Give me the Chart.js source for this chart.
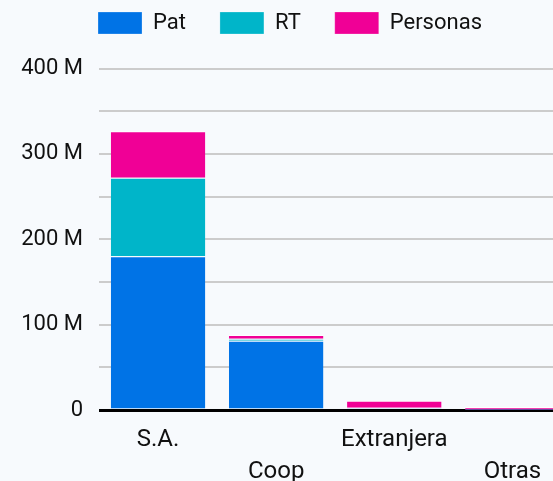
<!DOCTYPE html>
<html>
<head>
<meta charset="utf-8">
<script src="https://cdn.jsdelivr.net/npm/chart.js@4/dist/chart.umd.min.js"></script>
<style>
  html, body { margin: 0; padding: 0; background: #f7fafd; overflow: hidden; width: 553px; height: 481px; }
  #wrap { position: absolute; left: 0; top: 0; width: 580px; height: 502px; }
</style>
</head>
<body>
<div id="wrap"><canvas id="c" width="580" height="502"></canvas></div>
<script>
// Data (values in millions)
const categories = [['S.A.'], ['', 'Coop'], ['Extranjera'], ['', 'Otras']];
const pat = [180, 81, 2.3, 0.3];
const rt = [92, 2.5, 0.3, 0.1];
const personas = [54.5, 4.3, 8.2, 3.2];
const yTickLabels = { 0: '0', 100: '100 M', 200: '200 M', 300: '300 M', 400: '400 M' };

const FONT = 'Roboto, "Noto Sans", sans-serif';
const TEXT = '#111111';

// Legend: extra space below it and centred on the full canvas width
const legendTweak = {
  id: 'legendTweak',
  afterInit(chart) {
    const lg = chart.legend;
    const origFit = lg.fit;
    lg.fit = function () { origFit.call(this); this.height += 24.5; };
    const origDraw = lg.draw;
    lg.draw = function () {
      const ctx = this.ctx;
      ctx.save();
      ctx.translate(4.25, 0);
      origDraw.call(this);
      ctx.restore();
    };
  }
};

const barBorder = { top: 1, left: 0, right: 0, bottom: 0 };

new Chart(document.getElementById('c'), {
  type: 'bar',
  data: {
    labels: categories,
    datasets: [
      { label: 'Pat', data: pat, backgroundColor: '#0073e6', borderColor: '#ffffff', borderWidth: barBorder, borderSkipped: false },
      { label: 'RT', data: rt, backgroundColor: '#00b5c9', borderColor: '#ffffff', borderWidth: barBorder, borderSkipped: false },
      { label: 'Personas', data: personas, backgroundColor: '#f00096', borderColor: '#ffffff', borderWidth: barBorder, borderSkipped: false }
    ]
  },
  plugins: [legendTweak],
  options: {
    responsive: false,
    animation: false,
    layout: { padding: { top: -22, left: 0, right: 8.5, bottom: 0 } },
    plugins: {
      legend: {
        position: 'top',
        labels: {
          boxWidth: 44, boxHeight: 22, padding: 34,
          color: TEXT, font: { family: FONT, size: 22 }
        }
      },
      tooltip: { enabled: false }
    },
    datasets: { bar: { categoryPercentage: 0.8, barPercentage: 1.0 } },
    scales: {
      x: {
        stacked: true,
        grid: { display: false, drawTicks: false },
        border: { display: false },
        ticks: {
          color: TEXT, font: { family: FONT, size: 24, lineHeight: 1.333 },
          maxRotation: 0, autoSkip: false, padding: 14
        }
      },
      y: {
        stacked: true,
        min: 0, max: 400,
        afterFit(s) { s.width = 99; },
        border: { display: false },
        grid: {
          drawTicks: false,
          color: (c) => (c.tick && c.tick.value === 0 ? '#000000' : '#cccccc'),
          lineWidth: (c) => (c.tick && c.tick.value === 0 ? 3 : 2)
        },
        ticks: {
          stepSize: 50,
          padding: 16,
          color: TEXT, font: { family: FONT, size: 22 },
          callback: (v) => (yTickLabels[v] !== undefined ? yTickLabels[v] : '')
        }
      }
    }
  }
});
</script>
</body>
</html>
